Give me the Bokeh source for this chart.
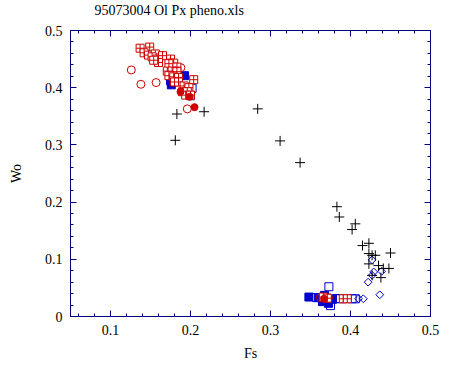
from bokeh.plotting import figure
from bokeh.models import FixedTicker, LinearAxis, Range1d, CustomLabelingPolicy
from bokeh.embed import file_html
from bokeh.resources import INLINE

# ---- data (Fs, Wo) ----
plus_fs = [0.183, 0.217, 0.284, 0.181, 0.312, 0.337, 0.383, 0.386, 0.402, 0.406, 0.415,
           0.423, 0.423, 0.427, 0.431, 0.450, 0.423, 0.435, 0.441, 0.448, 0.427, 0.438]
plus_wo = [0.354, 0.358, 0.363, 0.308, 0.307, 0.269, 0.192, 0.174, 0.152, 0.162, 0.124,
           0.128, 0.110, 0.107, 0.107, 0.111, 0.092, 0.089, 0.084, 0.084, 0.072, 0.068]

ocirc_fs = [0.126, 0.138, 0.157, 0.188, 0.196, 0.3625, 0.3725]
ocirc_wo = [0.431, 0.406, 0.409, 0.435, 0.363, 0.033, 0.033]

fcirc_fs = [0.1875, 0.199, 0.205, 0.367]
fcirc_wo = [0.393, 0.384, 0.366, 0.031]

sqx_fs = [0.137, 0.149, 0.142, 0.1475, 0.156, 0.152, 0.158, 0.165, 0.160, 0.154, 0.175,
          0.179, 0.173, 0.183, 0.171, 0.177, 0.183, 0.173, 0.179, 0.185, 0.180, 0.185,
          0.204, 0.192, 0.198, 0.190, 0.196, 0.194, 0.200, 0.366, 0.371, 0.391, 0.396]
sqx_wo = [0.469, 0.471, 0.461, 0.457, 0.459, 0.454, 0.450, 0.456, 0.444, 0.448, 0.450,
          0.443, 0.442, 0.436, 0.429, 0.429, 0.428, 0.421, 0.419, 0.418, 0.410, 0.410,
          0.414, 0.403, 0.400, 0.393, 0.393, 0.387, 0.387, 0.034, 0.032, 0.031, 0.031]

fsq_fs = [0.1925, 0.175, 0.176, 0.348, 0.360, 0.3675, 0.3725, 0.3775, 0.365]
fsq_wo = [0.421, 0.412, 0.405, 0.034, 0.033, 0.037, 0.023, 0.030, 0.026]

osq_fs = [0.200, 0.202, 0.373, 0.375, 0.3575, 0.3825, 0.3875, 0.402, 0.406]
osq_wo = [0.386, 0.399, 0.052, 0.019, 0.033, 0.0315, 0.031, 0.031, 0.031]

dia_fs = [0.427, 0.429, 0.439, 0.422, 0.4366, 0.410, 0.416, 0.427]
dia_wo = [0.099, 0.078, 0.079, 0.060, 0.038, 0.031, 0.031, 0.072]

x_major = [0.1, 0.2, 0.3, 0.4, 0.5]
y_major = [0.0, 0.1, 0.2, 0.3, 0.4, 0.5]
y_labels = {0.0: "0", 0.1: "0.1", 0.2: "0.2", 0.3: "0.3", 0.4: "0.4", 0.5: "0.5"}

NAVY = "#000080"
RED = "#CC0000"
BLUE = "#0000CC"
FONT = "Liberation Serif"

p = figure(frame_width=360, frame_height=286, output_backend="svg", toolbar_location=None,
           x_range=Range1d(0.05, 0.5), y_range=Range1d(0, 0.5),
           min_border_left=70, min_border_right=17, min_border_top=30, min_border_bottom=45,
           title="95073004 Ol Px pheno.xls")
p.title.text_font = FONT
p.title.text_font_size = "14px"
p.title.text_font_style = "normal"
p.title.text_color = "black"
p.title.align = "left"
p.title.offset = 24
p.title.standoff = 0
p.grid.visible = False
p.outline_line_color = NAVY
p.background_fill_color = "white"
p.border_fill_color = "white"

x_minor = [round(0.06 + 0.02 * i, 2) for i in range(22)]
y_minor = [round(0.02 * i, 2) for i in range(26)]
xt = FixedTicker(ticks=x_major, minor_ticks=x_minor)
yt = FixedTicker(ticks=y_major, minor_ticks=y_minor)

no_labels = """
for (const i of indices)
    indices.unset(i)
return indices
"""


def style(ax, labels=True):
    ax.axis_line_color = NAVY
    ax.major_tick_line_color = NAVY
    ax.minor_tick_line_color = NAVY
    ax.major_tick_in = 6
    ax.major_tick_out = 0
    ax.minor_tick_in = 3
    ax.minor_tick_out = 0
    ax.major_label_text_font = FONT
    ax.major_label_text_font_size = "14px"
    ax.major_label_text_color = "black"
    ax.major_label_standoff = 8
    ax.axis_label_text_font = FONT
    ax.axis_label_text_font_size = "14px"
    ax.axis_label_text_font_style = "normal"
    ax.axis_label_text_color = "black"
    if not labels:
        ax.major_label_policy = CustomLabelingPolicy(code=no_labels)
        ax.major_label_standoff = 0


p.xaxis.ticker = xt
p.yaxis.ticker = yt
p.yaxis.major_label_overrides = y_labels
p.xaxis.axis_label = "Fs"
p.yaxis.axis_label = "Wo"
style(p.xaxis[0])
style(p.yaxis[0])
p.xaxis.axis_label_standoff = 8
p.yaxis.axis_label_standoff = 18

top = LinearAxis(ticker=xt)
right = LinearAxis(ticker=yt)
style(top, False)
style(right, False)
p.add_layout(top, "above")
p.add_layout(right, "right")

p.scatter(fsq_fs, fsq_wo, marker="square", size=8, fill_color=BLUE, line_color=BLUE)
p.scatter(osq_fs, osq_wo, marker="square", size=8, fill_color=None, line_color=BLUE)
p.scatter(dia_fs, dia_wo, marker="square", angle=0.785398, size=5.5, fill_color=None, line_color=BLUE)
p.scatter(plus_fs, plus_wo, marker="cross", size=10, line_color="black", line_width=1)
p.scatter(ocirc_fs, ocirc_wo, marker="circle", size=8, fill_color=None, line_color=RED)
p.scatter(sqx_fs, sqx_wo, marker="square_cross", size=8, fill_color="white", line_color=RED)
p.scatter(fcirc_fs, fcirc_wo, marker="circle", size=7, fill_color=RED, line_color=RED)

open("out.html", "w").write(file_html(p, INLINE))
